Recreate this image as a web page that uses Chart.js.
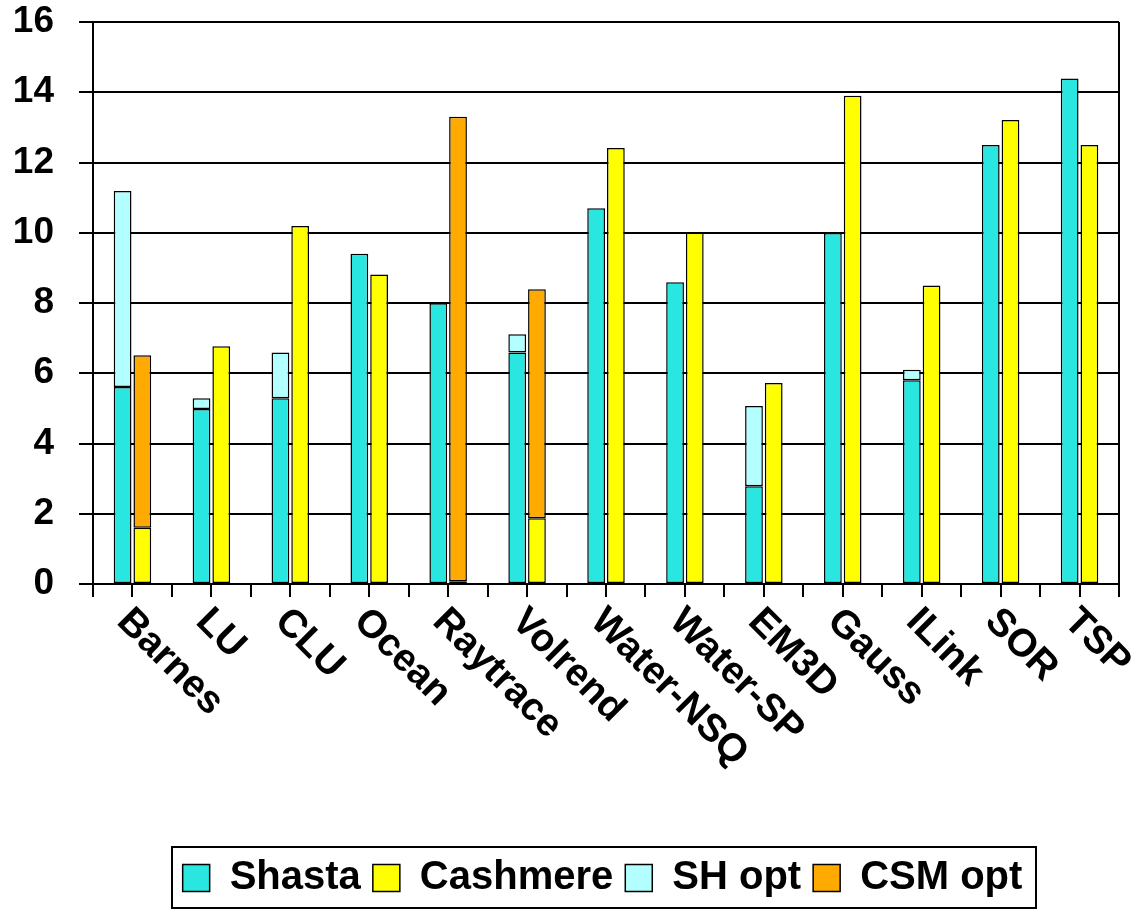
<!DOCTYPE html>
<html>
<head>
<meta charset="utf-8">
<script src="https://cdn.jsdelivr.net/npm/chart.js@4"></script>
<style>
  html, body { margin: 0; padding: 0; background: #fff; }
  #wrap { width: 1140px; height: 911px; }
</style>
</head>
<body>
<div id="wrap"><canvas id="chart" width="1140" height="911"></canvas></div>
<script>
const categories = ['Barnes', 'LU', 'CLU', 'Ocean', 'Raytrace', 'Volrend', 'Water-NSQ', 'Water-SP', 'EM3D', 'Gauss', 'ILink', 'SOR', 'TSP'];
const shasta   = [5.61, 4.98, 5.29, 9.40, 7.99, 6.59, 10.70, 8.59, 2.78, 9.99, 5.80, 12.50, 14.39];
const cashmere = [1.60, 6.77, 10.19, 8.81, 0.08, 1.87, 12.41, 10.01, 5.72, 13.90, 8.50, 13.21, 12.50];
const shOpt    = [5.58, 0.31, 1.30, null, null, 0.52, null, null, 2.29, null, 0.30, null, null];
const csmOpt   = [4.91, null, null, null, 13.22, 6.52, null, null, null, null, null, null, null];
const yTicks = [0, 2, 4, 6, 8, 10, 12, 14, 16];

const FONT = "'Liberation Sans', Arial, sans-serif";
const LEGEND_PAD = 12;

// x labels drawn slanted down-right, extra center ticks, right border, legend frame
const decor = {
    id: 'decor',
    afterLayout(chart) {
        const lg = chart.legend;
        lg.left += 43;
        lg.right += 43;
    },
    afterDraw(chart) {
        const ctx = chart.ctx;
        const x = chart.scales.x;
        const area = chart.chartArea;
        ctx.save();
        ctx.strokeStyle = '#000';
        ctx.lineWidth = 2;
        // ticks at category centers
        categories.forEach((c, i) => {
            const px = Math.round(x.getPixelForTick(i));
            ctx.beginPath();
            ctx.moveTo(px, area.bottom);
            ctx.lineTo(px, area.bottom + 13);
            ctx.stroke();
        });
        // right border
        ctx.beginPath();
        ctx.moveTo(area.right, area.top);
        ctx.lineTo(area.right, area.bottom);
        ctx.stroke();

        // slanted labels
        ctx.fillStyle = '#000';
        ctx.font = 'bold 39px ' + FONT;
        ctx.textAlign = 'left';
        ctx.textBaseline = 'alphabetic';
        categories.forEach((c, i) => {
            const px = x.getPixelForTick(i);
            ctx.save();
            ctx.translate(px - 17, area.bottom + 39);
            ctx.rotate(Math.PI / 4);
            ctx.fillText(c, 0, 0);
            ctx.restore();
        });

        // legend frame
        const lg = chart.legend;
        const lineW = lg.lineWidths[0];
        const start = (lg.left + LEGEND_PAD + lg.right - lineW) / 2;
        const w = lineW - LEGEND_PAD;
        const cy = lg.top + LEGEND_PAD + 20;
        ctx.lineWidth = 2;
        ctx.strokeRect(Math.round(start - 11), Math.round(cy - 31), Math.round(w + 24), 61);
        ctx.restore();
    }
};

new Chart(document.getElementById('chart'), {
    type: 'bar',
    data: {
        labels: categories,
        datasets: [
            { label: 'Shasta', data: shasta, stack: 'sh', backgroundColor: '#29E6E1' },
            { label: 'Cashmere', data: cashmere, stack: 'csm', backgroundColor: '#FFFF00' },
            { label: 'SH opt', data: shOpt, stack: 'sh', backgroundColor: '#B3FFFF' },
            { label: 'CSM opt', data: csmOpt, stack: 'csm', backgroundColor: '#FFAA00' }
        ]
    },
    options: {
        responsive: false,
        animation: false,
        devicePixelRatio: 1,
        datasets: {
            bar: {
                borderColor: '#000',
                borderWidth: 1.5,
                borderSkipped: false,
                categoryPercentage: 0.5,
                barPercentage: 0.9
            }
        },
        layout: { padding: { top: 0, right: 21, bottom: 3, left: 0 } },
        scales: {
            x: {
                stacked: true,
                ticks: { display: false },
                grid: { display: true, drawOnChartArea: false, drawTicks: true, tickLength: 13, color: '#000', lineWidth: 2, offset: true },
                border: { display: true, color: '#000', width: 2 },
                afterFit(s) { s.height = 274 - LEGEND_PAD; }
            },
            y: {
                stacked: true,
                min: 0,
                max: 16,
                afterBuildTicks(s) { s.ticks = yTicks.map(v => ({ value: v })); },
                ticks: { color: '#000', padding: 25, font: { family: FONT, size: 37, weight: 'bold' } },
                grid: { color: '#000', lineWidth: 2, tickLength: 14 },
                border: { display: true, color: '#000', width: 2 },
                afterFit(s) { s.width = 93; s.paddingTop = 22; s.paddingBottom = 0; }
            }
        },
        plugins: {
            legend: {
                position: 'bottom',
                labels: {
                    color: '#000',
                    boxWidth: 27,
                    boxHeight: 27,
                    padding: LEGEND_PAD,
                    font: { family: FONT, size: 40, weight: 'bold' },
                    generateLabels(chart) {
                        return chart.data.datasets.map((d, i) => ({
                            text: d.label,
                            fillStyle: d.backgroundColor,
                            strokeStyle: '#000',
                            lineWidth: 1.5,
                            datasetIndex: i
                        }));
                    }
                }
            },
            tooltip: { enabled: false }
        }
    },
    plugins: [decor]
});
</script>
</body>
</html>
